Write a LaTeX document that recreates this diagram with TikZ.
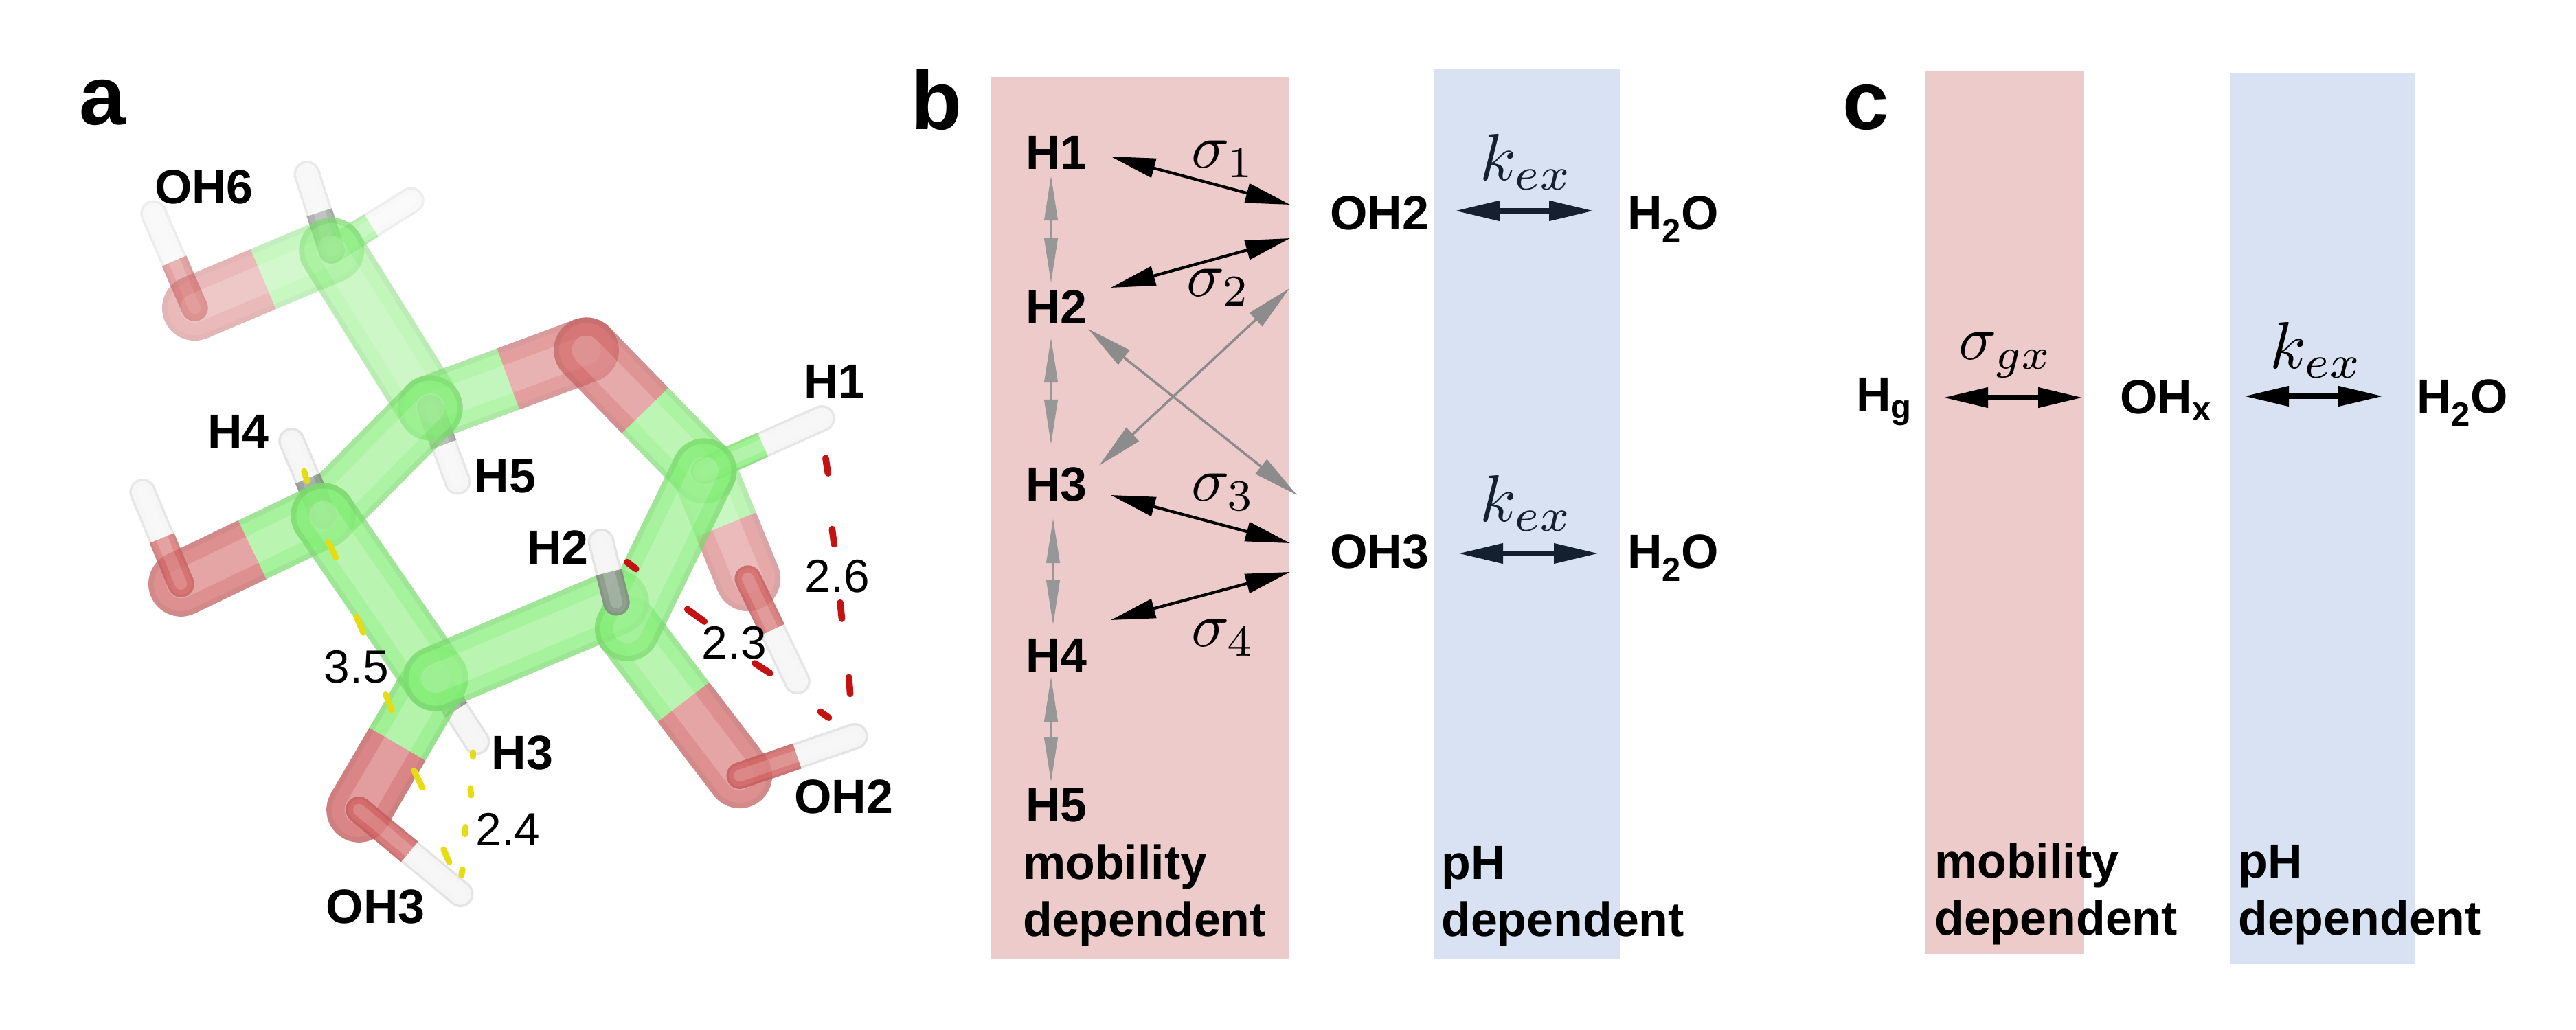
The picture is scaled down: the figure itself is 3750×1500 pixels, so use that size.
\documentclass[tikz,border=0pt]{standalone}
\usepackage{fontspec}
\setmainfont{Liberation Sans}
\usetikzlibrary{arrows.meta,calc}
\definecolor{pinkband}{HTML}{EECBCB}
\definecolor{blueband}{HTML}{D9E2F3}
\definecolor{navy}{HTML}{14202F}
\definecolor{grayarrow}{HTML}{8C8C8C}
\definecolor{gC}{HTML}{86EE78}
\definecolor{rO}{HTML}{D26464}
\definecolor{wH}{HTML}{F4F4F4}
\definecolor{gH}{HTML}{8E968E}
\definecolor{hbred}{HTML}{C41212}
\definecolor{hbyel}{HTML}{E6DC14}
\tikzset{
  lbl/.style={font=\fontsize{39.8}{40}\selectfont\bfseries,inner sep=0pt,anchor=west},
  dlbl/.style={font=\fontsize{39.8}{40}\selectfont\bfseries,inner sep=0pt,anchor=base west},
  alab/.style={font=\fontsize{39.8}{40}\selectfont\bfseries,inner sep=0pt},
  dist/.style={font=\fontsize{38.5}{40}\selectfont,inner sep=0pt},
  panel/.style={font=\fontsize{69}{69}\selectfont\bfseries,inner sep=0pt,anchor=base west},
  mathlbl/.style={scale=5.2,inner sep=0pt},
  klbl/.style={scale=5.5,inner sep=0pt},
  blk/.style={line width=2.4pt,black,{Triangle[length=37pt,width=16pt]}-{Triangle[length=37pt,width=16pt]}},
  ex/.style={line width=4pt,{Triangle[length=37pt,width=16pt]}-{Triangle[length=37pt,width=16pt]}},
  gry/.style={line width=2pt,grayarrow,{Triangle[length=38pt,width=15pt]}-{Triangle[length=38pt,width=15pt]}},
  gryv/.style={line width=1.8pt,grayarrow!90!white,{Triangle[length=37pt,width=11pt]}-{Triangle[length=37pt,width=11pt]}},
  hbr/.style={line width=5.5pt,hbred,line cap=round,shorten >=2.5pt,shorten <=2.5pt},
  hby/.style={line width=5pt,hbyel,line cap=round,shorten >=2.5pt,shorten <=2.5pt},
}
\newcommand\halfstick[4]{% from, to, colour, width (pt)
  \draw[line cap=round,line width=#4 pt,#3] #1 -- ($#1!.01!#2$);
  \draw[line cap=butt,line width=#4 pt,#3] #1 -- #2;}
\newcommand\sticklevel[3]{% colour1, colour2, width
  \halfstick{(sa)}{(sm)}{#1}{#3}
  \halfstick{(sb)}{(sm)}{#2}{#3}}
\newcommand\stick[6]{% a, b, colour a, colour b, width, opacity
  \begin{scope}[transparency group,opacity=#6]
  \begin{scope}[opacity=1]
    \coordinate (sa) at #1; \coordinate (sb) at #2;
    \coordinate (sm) at ($(sa)!.5!(sb)$);
    \path (sa) ++(-80,-80) rectangle ++(160,160);
    \path (sb) ++(-80,-80) rectangle ++(160,160);
    \sticklevel{#3!92!black}{#4!92!black}{#5}
    \sticklevel{#3}{#4}{\the\numexpr #5*84/100\relax}
    \sticklevel{#3!80!white}{#4!80!white}{\the\numexpr #5*44/100\relax}
  \end{scope}
  \end{scope}}
\begin{document}
\begin{tikzpicture}[x=0.02cm,y=-0.02cm]
\fill[white] (0,0) rectangle (3750,1500);
% bands
\fill[pinkband] (1443,112) rectangle (1876,1397);
\fill[blueband] (2087,100) rectangle (2358,1397);
\fill[pinkband] (2803,103) rectangle (3034,1390);
\fill[blueband] (3246,107) rectangle (3516,1404);
% panel letters
\node[panel] (pa) at (115,182) {a};
\node[panel] (pb) at (1326,189) {b};
\node[panel] (pc) at (2682,189) {c};
% molecule
\begin{scope}[shift={(100,200)},xscale=0.7974,yscale=0.7651]
  % rear hydrogens and bonds
  \stick{(230,325)}{(155,145)}{rO}{wH}{22}{.6}
  \stick{(480,215)}{(435,70)}{gH}{wH}{22}{.7}
  \stick{(480,215)}{(625,120)}{gC}{wH}{22}{.55}
  \stick{(480,215)}{(230,325)}{gC}{rO}{54}{.45}
  \stick{(660,515)}{(480,215)}{gC}{gC}{54}{.5}
  \stick{(660,515)}{(710,655)}{gH}{wH}{22}{.75}
  \stick{(1160,635)}{(1240,840)}{gC}{rO}{54}{.55}
  \stick{(1240,840)}{(1330,1035)}{rO}{wH}{22}{.8}
  % ring
  \stick{(660,515)}{(945,405)}{gC}{rO}{54}{.62}
  \stick{(945,405)}{(1160,635)}{rO}{gC}{54}{.68}
  \stick{(1160,635)}{(1375,535)}{gC}{wH}{22}{.8}
  \stick{(465,720)}{(660,515)}{gC}{gC}{54}{.68}
  \stick{(465,720)}{(407,578)}{gH}{wH}{22}{.85}
  \stick{(465,720)}{(205,850)}{gC}{rO}{54}{.72}
  \stick{(205,850)}{(135,675)}{rO}{wH}{22}{.75}
  \stick{(1020,935)}{(1225,1215)}{gC}{rO}{54}{.72}
  \stick{(1225,1215)}{(1435,1140)}{rO}{wH}{22}{.85}
  \stick{(670,1030)}{(745,1150)}{gH}{wH}{22}{.9}
  \stick{(670,1030)}{(530,1280)}{gC}{rO}{54}{.78}
  \stick{(530,1280)}{(715,1440)}{rO}{wH}{22}{.85}
  \stick{(465,720)}{(670,1030)}{gC}{gC}{54}{.72}
  \stick{(670,1030)}{(1000,885)}{gC}{gC}{54}{.72}
  \stick{(1160,635)}{(1020,935)}{gC}{gC}{54}{.72}
  \stick{(1000,885)}{(972,770)}{gH}{wH}{22}{.9}
  % red H-bond dashes
  \draw[hbr] (1381,605) -- (1387,645);
  \draw[hbr] (1393,740) -- (1398,780);
  \draw[hbr] (1408,880) -- (1412,922);
  \draw[hbr] (1424,1022) -- (1427,1065);
  \draw[hbr] (1368,1090) -- (1392,1108);
  \draw[hbr] (1015,805) -- (1040,825);
  \draw[hbr] (1125,895) -- (1165,925);
  \draw[hbr] (1248,998) -- (1285,1023);
  % yellow dashes
  \draw[hby] (428,630) -- (437,660);
  \draw[hby] (472,765) -- (490,805);
  \draw[hby] (523,907) -- (540,948);
  \draw[hby] (577,1055) -- (592,1097);
  \draw[hby] (628,1200) -- (648,1243);
  \draw[hby] (682,1350) -- (697,1385);
  \draw[hby] (738,1165) -- (738,1185);
  \draw[hby] (733,1233) -- (735,1258);
  \draw[hby] (725,1307) -- (723,1332);
  \draw[hby] (720,1388) -- (716,1410);
  % labels
  \node[alab] (aOH6) at (247,95) {OH6};
  \node[alab] (aH4) at (310,560) {H4};
  \node[alab] (aH5) at (797,645) {H5};
  \node[alab] (aH2) at (893,780) {H2};
  \node[alab] (aH1) at (1398,465) {H1};
  \node[alab] (aH3) at (828,1172) {H3};
  \node[alab] (aOH2) at (1415,1255) {OH2};
  \node[alab] (aOH3) at (560,1465) {OH3};
  \node[dist] (d35) at (525,1008) {3.5};
  \node[dist] (d23) at (1215,962) {2.3};
  \node[dist] (d26) at (1403,835) {2.6};
  \node[dist] (d24) at (802,1317) {2.4};
\end{scope}
% panel b labels
\node[lbl] (bH1) at (1493,222) {H1};
\node[lbl] (bH2) at (1493,447) {H2};
\node[lbl] (bH3) at (1493,705) {H3};
\node[lbl] (bH4) at (1493,954) {H4};
\node[lbl] (bH5) at (1493,1173) {H5};
\node[lbl] (bOH2) at (1936,310) {OH2};
\node[lbl] (bOH3) at (1936,803) {OH3};
\node[lbl] (bW2) at (2369,320) {H\textsubscript{2}O};
\node[lbl] (bW3) at (2369,813) {H\textsubscript{2}O};
\node[dlbl] (bm1) at (1489,1280) {mobility};
\node[dlbl] (bm2) at (1489,1363) {dependent};
\node[dlbl] (bp1) at (2098,1280) {pH};
\node[dlbl] (bp2) at (2098,1363) {dependent};
% panel b arrow ends
\coordinate (s1a) at (1617,228); \coordinate (s1b) at (1878,298);
\coordinate (s2a) at (1617,419); \coordinate (s2b) at (1878,347);
\coordinate (s3a) at (1617,721); \coordinate (s3b) at (1878,791);
\coordinate (s4a) at (1617,903); \coordinate (s4b) at (1878,833);
\coordinate (g1a) at (1584,479); \coordinate (g1b) at (1888,721);
\coordinate (g2a) at (1600,678); \coordinate (g2b) at (1877,420);
\coordinate (v1a) at (1530,256); \coordinate (v1b) at (1530,412);
\coordinate (v2a) at (1530,492); \coordinate (v2b) at (1530,647);
\coordinate (v3a) at (1533,755); \coordinate (v3b) at (1533,910);
\coordinate (v4a) at (1530,986); \coordinate (v4b) at (1530,1139);
\coordinate (k1a) at (2118,307); \coordinate (k1b) at (2320,307);
\coordinate (k2a) at (2123,806); \coordinate (k2b) at (2327,806);
\draw[gryv] (v1a) -- (v1b);
\draw[gryv] (v2a) -- (v2b);
\draw[gryv] (v3a) -- (v3b);
\draw[gryv] (v4a) -- (v4b);
\draw[gry] (g1a) -- (g1b);
\draw[gry] (g2a) -- (g2b);
\draw[blk] (s1a) -- (s1b);
\draw[blk] (s2a) -- (s2b);
\draw[blk] (s3a) -- (s3b);
\draw[blk] (s4a) -- (s4b);
\draw[ex,navy] (k1a) -- (k1b);
\draw[ex,navy] (k2a) -- (k2b);
\node[mathlbl] (ms1) at (1781,232) {$\sigma_1$};
\node[mathlbl] (ms2) at (1774,419) {$\sigma_2$};
\node[mathlbl] (ms3) at (1781,717) {$\sigma_3$};
\node[mathlbl] (ms4) at (1781,929) {$\sigma_4$};
\node[klbl,text=navy] (mk1) at (2222,236) {$k_{ex}$};
\node[klbl,text=navy] (mk2) at (2222,733) {$k_{ex}$};
% panel c
\node[lbl] (cHg) at (2702,585) {H\textsubscript{g}};
\node[lbl] (cOHx) at (3086,583) {OH\textsubscript{x}};
\node[lbl] (cW) at (3518,587) {H\textsubscript{2}O};
\coordinate (c1a) at (2829,579); \coordinate (c1b) at (3032,579);
\coordinate (c2a) at (3267,577); \coordinate (c2b) at (3469,577);
\draw[ex,black] (c1a) -- (c1b);
\draw[ex,black] (c2a) -- (c2b);
\node[mathlbl] (ms5) at (2920,517) {$\sigma_{gx}$};
\node[klbl] (mk3) at (3372,510) {$k_{ex}$};
\node[dlbl] (cm1) at (2816,1278) {mobility};
\node[dlbl] (cm2) at (2816,1361) {dependent};
\node[dlbl] (cp1) at (3258,1278) {pH};
\node[dlbl] (cp2) at (3258,1361) {dependent};
\end{tikzpicture}
\end{document}
